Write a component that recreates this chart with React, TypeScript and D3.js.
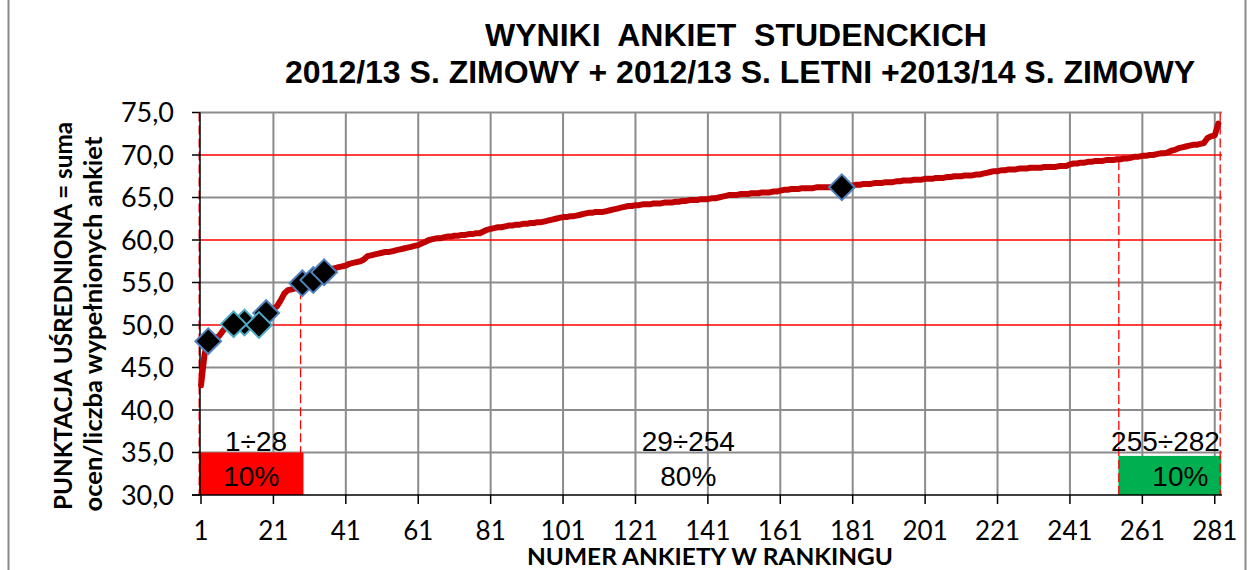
import React from "react";
import * as d3 from "d3";

const titleLines = ["WYNIKI  ANKIET  STUDENCKICH", "2012/13 S. ZIMOWY + 2012/13 S. LETNI +2013/14 S. ZIMOWY"];
const yTitleLines = ["PUNKTACJA UŚREDNIONA = suma", "ocen/liczba wypełnionych ankiet"];
const xTitle = "NUMER ANKIETY W RANKINGU";

const xTicks = [1, 21, 41, 61, 81, 101, 121, 141, 161, 181, 201, 221, 241, 261, 281];
const yTicks = [30, 35, 40, 45, 50, 55, 60, 65, 70, 75];
const redGridValues = [50, 60, 70];

// average score for each ranked survey (rank 1..282)
const scores = [
  42.9, 46.6, 48.1, 48.3, 48.5, 48.7, 49.3, 49.8, 50.0, 50.0,
  50.1, 50.1, 50.2, 50.3, 50.4, 50.5, 50.7, 51.0, 51.3, 51.6,
  51.9, 52.2, 52.9, 53.7, 54.1, 54.2, 54.3, 54.3, 54.8, 55.0,
  55.2, 55.4, 55.6, 55.9, 56.2, 56.4, 56.6, 56.7, 56.8, 56.9,
  57.0, 57.2, 57.3, 57.4, 57.5, 57.7, 58.1, 58.2, 58.3, 58.4,
  58.5, 58.6, 58.6, 58.7, 58.8, 58.9, 59.0, 59.1, 59.2, 59.3,
  59.4, 59.6, 59.8, 60.0, 60.1, 60.2, 60.2, 60.3, 60.4, 60.4,
  60.5, 60.5, 60.6, 60.6, 60.7, 60.7, 60.8, 60.8, 61.0, 61.2,
  61.3, 61.4, 61.5, 61.5, 61.6, 61.7, 61.7, 61.8, 61.8, 61.9,
  61.9, 62.0, 62.0, 62.1, 62.1, 62.2, 62.3, 62.4, 62.5, 62.6,
  62.7, 62.7, 62.8, 62.8, 62.9, 63.0, 63.1, 63.2, 63.2, 63.3,
  63.3, 63.3, 63.4, 63.5, 63.6, 63.7, 63.8, 63.9, 64.0, 64.0,
  64.1, 64.1, 64.2, 64.2, 64.2, 64.3, 64.3, 64.3, 64.4, 64.4,
  64.4, 64.5, 64.5, 64.6, 64.6, 64.7, 64.7, 64.7, 64.8, 64.8,
  64.8, 64.9, 64.9, 65.0, 65.1, 65.2, 65.3, 65.3, 65.3, 65.4,
  65.4, 65.4, 65.5, 65.5, 65.5, 65.6, 65.6, 65.6, 65.7, 65.7,
  65.8, 65.9, 65.9, 66.0, 66.0, 66.0, 66.1, 66.1, 66.1, 66.1,
  66.2, 66.2, 66.2, 66.2, 66.2, 66.2, 66.2, 66.25, 66.3, 66.3,
  66.4, 66.5, 66.5, 66.6, 66.6, 66.6, 66.7, 66.7, 66.7, 66.8,
  66.8, 66.8, 66.9, 66.9, 67.0, 67.0, 67.0, 67.1, 67.1, 67.1,
  67.2, 67.2, 67.2, 67.3, 67.3, 67.3, 67.4, 67.4, 67.5, 67.5,
  67.5, 67.6, 67.6, 67.6, 67.7, 67.7, 67.8, 67.9, 68.0, 68.1,
  68.1, 68.2, 68.2, 68.3, 68.3, 68.3, 68.4, 68.4, 68.4, 68.5,
  68.5, 68.5, 68.5, 68.6, 68.6, 68.6, 68.6, 68.7, 68.7, 68.7,
  68.9, 69.0, 69.0, 69.1, 69.1, 69.2, 69.2, 69.3, 69.3, 69.3,
  69.4, 69.4, 69.4, 69.5, 69.5, 69.6, 69.6, 69.7, 69.8, 69.8,
  69.9, 69.9, 70.0, 70.0, 70.1, 70.2, 70.2, 70.3, 70.5, 70.6,
  70.8, 70.9, 71.0, 71.1, 71.2, 71.2, 71.3, 71.4, 72.0, 72.2,
  72.3, 73.7,
];

// highlighted surveys (blue-outlined diamonds)
const markerRanksA = [3, 19, 29, 32, 35, 178];
const markerValuesA = [48.1, 51.4, 54.9, 55.3, 56.2, 66.2];
// highlighted surveys (cyan-outlined diamonds)
const markerRanksB = [13, 10, 17];
const markerValuesB = [50.3, 50.1, 50.0];

// group dividers
const dividerRanks = [0.5, 28.5, 254.5, 282.5];
const dividerTops = [75, 54.1, 69.3, 75];

// group boxes and labels
const groupRanges = ["1÷28", "29÷254", "255÷282"];
const groupShares = ["10%", "80%", "10%"];
const groupLabelRanks = [16.2, 135.6, 267.4];
const groupShareRanks = [14.9, 135.6, 271.5];
const boxStart = [0.6, null, 254.4];
const boxEnd = [29.3, null, 282.8];
const boxTop = [35, null, 34.6];
const boxColors = ["#ff0000", null, "#00b050"];

const W = 1252;
const H = 570;

export default function App() {
  const x = d3.scaleLinear().domain([1, 283]).range([201, 1222]);
  const y = d3.scaleLinear().domain([30, 75]).range([495, 112.5]);
  const [xl, xr] = [200, 1222];

  const line = d3
    .line<number>()
    .x((_, i) => x(i + 1))
    .y((d) => y(d));

  const diamond = d3.symbol().type(d3.symbolSquare).size(330)();

  const calibri = "Lato, 'Open Sans', sans-serif";
  const arial = "'Liberation Sans', Arial, sans-serif";

  return (
    <svg
      width={W}
      height={H}
      style={{ position: "absolute", left: 0, top: 0, background: "#fff" }}
    >
      <rect x={0} y={0} width={W} height={H} fill="#fff" />
      {/* chart border */}
      <line x1={8.5} x2={8.5} y1={0} y2={H} stroke="#8a8a8a" strokeWidth={2} />
      <line x1={1245.5} x2={1245.5} y1={0} y2={H} stroke="#8a8a8a" strokeWidth={2} />

      {/* title */}
      {titleLines.map((t, i) => (
        <text
          key={t}
          x={i === 0 ? 736 : 740}
          y={i === 0 ? 46 : 83}
          textAnchor="middle"
          fontFamily={arial}
          fontWeight="bold"
          fontSize={32}
          style={{ whiteSpace: "pre" }}
        >
          {t}
        </text>
      ))}

      {/* vertical grid */}
      {xTicks.slice(1).map((t) => (
        <line key={"vg" + t} x1={x(t)} x2={x(t)} y1={y(75)} y2={y(30)} stroke="#8c8c8c" strokeWidth={2} />
      ))}
      {/* horizontal grid */}
      {yTicks.slice(1).map((t) => (
        <line
          key={"hg" + t}
          x1={xl}
          x2={xr}
          y1={y(t)}
          y2={y(t)}
          stroke={redGridValues.includes(t) ? "#ff0000" : "#8c8c8c"}
          strokeWidth={redGridValues.includes(t) ? 1.5 : 2}
        />
      ))}

      {/* boxes */}
      {boxColors.map((c, i) =>
        c ? (
          <rect
            key={"box" + i}
            x={x(boxStart[i] as number)}
            y={y(boxTop[i] as number)}
            width={x(boxEnd[i] as number) - x(boxStart[i] as number)}
            height={y(30) - y(boxTop[i] as number)}
            fill={c}
          />
        ) : null
      )}

      {/* dividers */}
      {dividerRanks.map((r, i) => (
        <line
          key={"dv" + i}
          x1={x(r)}
          x2={x(r)}
          y1={y(dividerTops[i])}
          y2={y(30)}
          stroke="#ff0000"
          strokeWidth={1.3}
          strokeDasharray="9,4"
        />
      ))}

      {/* axes */}
      <line x1={xl} x2={xl} y1={y(75)} y2={y(30)} stroke="#000" strokeWidth={1.5} />
      <line x1={xl - 8} x2={xr} y1={y(30)} y2={y(30)} stroke="#000" strokeWidth={1.5} />
      {yTicks.map((t) => (
        <g key={"yt" + t}>
          <line x1={xl - 8} x2={xl} y1={y(t)} y2={y(t)} stroke="#000" strokeWidth={1.5} />
          <text
            x={174}
            y={y(t)}
            dy="0.36em"
            textAnchor="end"
            fontFamily={calibri}
            fontSize={27}
          >
            {d3.format(".1f")(t).replace(".", ",")}
          </text>
        </g>
      ))}
      {xTicks.map((t) => (
        <g key={"xt" + t}>
          <line x1={x(t)} x2={x(t)} y1={y(30)} y2={y(30) + 9} stroke="#000" strokeWidth={1.5} />
          <text x={x(t)} y={540} textAnchor="middle" fontFamily={calibri} fontSize={26}>
            {t}
          </text>
        </g>
      ))}

      {/* axis titles */}
      <text
        x={710}
        y={565}
        textAnchor="middle"
        fontFamily={calibri}
        fontWeight="bold"
        fontSize={23}
        textLength={366}
        lengthAdjust="spacingAndGlyphs"
      >
        {xTitle}
      </text>
      {yTitleLines.map((t, i) => (
        <text
          key={t}
          transform={`translate(${i === 0 ? 72 : 102},${i === 0 ? 316 : 324}) rotate(-90)`}
          textAnchor="middle"
          fontFamily={calibri}
          fontWeight="bold"
          fontSize={24}
          textLength={i === 0 ? 388 : 375}
          lengthAdjust="spacingAndGlyphs"
        >
          {t}
        </text>
      ))}

      {/* data line */}
      <path d={line(scores) || ""} fill="none" stroke="#c00000" strokeWidth={6} strokeLinejoin="round" strokeLinecap="round" />

      {/* markers */}
      {markerRanksA.map((r, i) => (
        <path
          key={"ma" + i}
          d={diamond || ""}
          transform={`translate(${x(r)},${y(markerValuesA[i])}) rotate(45)`}
          fill="#000"
          stroke="#4f81bd"
          strokeWidth={2}
        />
      ))}
      {markerRanksB.map((r, i) => (
        <path
          key={"mb" + i}
          d={diamond || ""}
          transform={`translate(${x(r)},${y(markerValuesB[i])}) rotate(45)`}
          fill="#000"
          stroke="#4bacc6"
          strokeWidth={2}
        />
      ))}

      {/* group labels */}
      {groupRanges.map((t, i) => (
        <text key={"gr" + i} x={x(groupLabelRanks[i])} y={451} textAnchor="middle" fontFamily={arial} fontSize={28}>
          {t}
        </text>
      ))}
      {groupShares.map((t, i) => (
        <text key={"gs" + i} x={x(groupShareRanks[i])} y={486} textAnchor="middle" fontFamily={arial} fontSize={28}>
          {t}
        </text>
      ))}
    </svg>
  );
}
